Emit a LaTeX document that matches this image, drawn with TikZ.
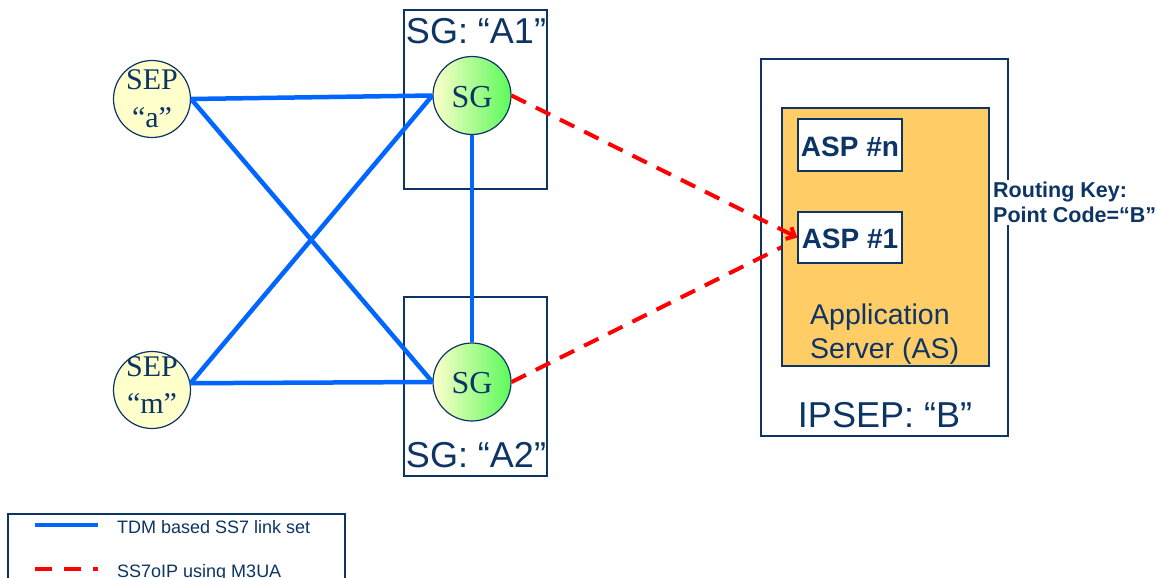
\documentclass[tikz,border=0pt]{standalone}
\usepackage{fontspec}
\setmainfont{Liberation Serif}
\setsansfont{Liberation Sans}
\usetikzlibrary{arrows.meta}
\definecolor{navy}{RGB}{12,52,100}
\definecolor{linkblue}{RGB}{0,102,255}
\definecolor{ipred}{RGB}{255,0,0}
\definecolor{asorange}{RGB}{255,204,102}
\definecolor{sepfill}{RGB}{255,255,204}
\definecolor{sggreen}{RGB}{90,250,90}
\begin{document}
\begin{tikzpicture}[x=1pt,y=-1pt,
  box/.style={draw=navy,line width=1.3pt},
  sepnode/.style={circle,draw=navy,line width=1.2pt,fill=sepfill,minimum size=77pt,inner sep=0pt},
  sgnode/.style={circle,draw=navy,line width=1.2pt,left color=sepfill,right color=sggreen,minimum size=78pt,inner sep=0pt},
  serif30/.style={font=\rmfamily\fontsize{30}{34}\selectfont,text=navy,inner sep=0pt},
  biglabel/.style={font=\sffamily\fontsize{36}{40}\selectfont,text=navy,inner sep=0pt},
  asplabel/.style={font=\sffamily\bfseries\fontsize{28}{32}\selectfont,text=navy},
  astext/.style={font=\sffamily\fontsize{28.5}{34}\selectfont,text=navy,inner sep=0pt},
  legtext/.style={font=\sffamily\fontsize{18}{20}\selectfont,text=navy,inner sep=0pt},
  tdm/.style={linkblue,line width=4.5pt},
  m3ua/.style={ipred,line width=4pt,dash pattern=on 16pt off 11pt}
]
\useasboundingbox (0,0) rectangle (1157,578);

% SG boxes
\node[box,minimum width=143pt,minimum height=179pt,inner sep=0pt] (sga1box) at (475.5,99.5) {};
\node[box,minimum width=143pt,minimum height=179pt,inner sep=0pt] (sga2box) at (475.5,386.5) {};
\node[biglabel,anchor=base] (sga1lab) at (476,44) {SG: “A1”};
\node[biglabel,anchor=base] (sga2lab) at (476,467) {SG: “A2”};

% IPSEP and AS
\node[box,fill=white,minimum width=247pt,minimum height=377pt,inner sep=0pt] (ipsep) at (884.5,247.5) {};
\node[biglabel,anchor=base] (ipseplab) at (885,427) {IPSEP: “B”};
\coordinate (l2end) at (782,247);

% circles
\node[sepnode] (sepa) at (152,99) {};
\node[sepnode] (sepm) at (152,390) {};
\node[sgnode] (sg1) at (472,95.5) {};
\node[sgnode] (sg2) at (472,382) {};

% TDM links
\draw[tdm] (sepa.east) -- (sg1.west);
\draw[tdm] (sepa.east) -- (sg2.west);
\draw[tdm] (sepm.10) -- (sg1.west);
\draw[tdm] (sepm.10) -- (sg2.west);
\draw[tdm] (sg1.south) -- (sg2.north);

% circle texts
\node[serif30,anchor=base] (sepat1) at (152,89) {SEP};
\node[serif30,anchor=base] (sepat2) at (152,128) {“a”};
\node[serif30,anchor=base] (sepmt1) at (152,376) {SEP};
\node[serif30,anchor=base] (sepmt2) at (152,413) {“m”};
\node[font=\rmfamily\fontsize{32}{34}\selectfont,text=navy,inner sep=0pt,anchor=base] (sg1t) at (472,107) {SG};
\node[font=\rmfamily\fontsize{32}{34}\selectfont,text=navy,inner sep=0pt,anchor=base] (sg2t) at (472,393.5) {SG};

% M3UA line 2 (ends at AS box)
\draw[m3ua] (sg2.east) -- (l2end);

% Application server
\node[box,fill=asorange,minimum width=207pt,minimum height=258pt,inner sep=0pt] (as) at (885.5,237) {};
\node[box,fill=white,minimum width=104pt,minimum height=52pt,inner sep=0pt] (aspn) at (850,145) {};
\node[box,fill=white,minimum width=104pt,minimum height=51pt,inner sep=0pt] (asp1) at (850,237.5) {};
\node[asplabel,anchor=base] (aspnt) at (850,156) {ASP \#n};
\node[asplabel,anchor=base] (asp1t) at (850,248) {ASP \#1};
\node[astext,anchor=base west] (ast1) at (810,324) {Application};
\node[astext,anchor=base west] (ast2) at (810,358) {Server (AS)};

% M3UA line 1
\draw[m3ua,-{Straight Barb[length=7pt,width=13pt,line width=4pt]}] (sg1.east) -- (asp1.west);

% routing key
\node[fill=white,anchor=north west,inner sep=2pt,align=left,font=\sffamily\bfseries\fontsize{21.5}{25}\selectfont,text=navy] (rk) at (991,180) {Routing Key:\\Point Code=“B”};

% legend
\draw[box] (8,580) -- (8,514) -- (345,514) -- (345,580);
\coordinate (lb1) at (35,525);
\coordinate (lb2) at (98,525);
\coordinate (lr1) at (35,569);
\coordinate (lr2) at (98,569);
\draw[tdm] (lb1) -- (lb2);
\draw[ipred,line width=4pt,dash pattern=on 17pt off 12pt] (lr1) -- (lr2);
\node[legtext,anchor=base west] (leg1) at (117,533) {TDM based SS7 link set};
\node[legtext,anchor=base west] (leg2) at (117,577) {SS7oIP using M3UA};
\end{tikzpicture}
\end{document}
